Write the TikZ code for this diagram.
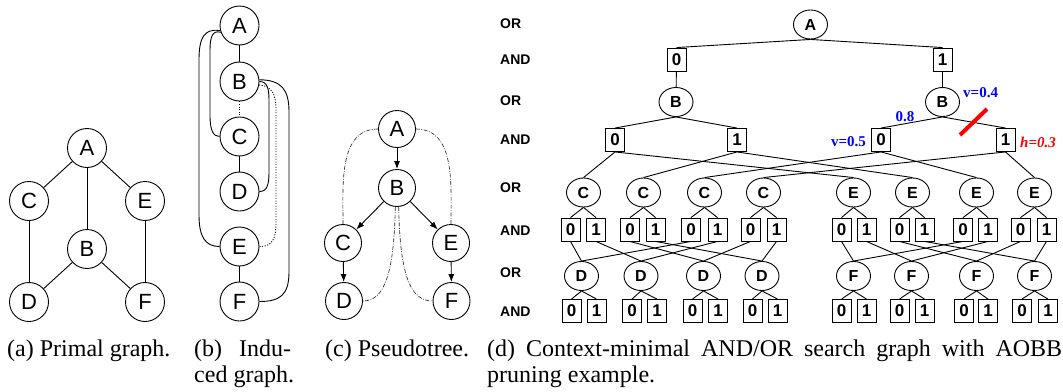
\documentclass[tikz,border=0pt]{standalone}
\usepackage{fontspec}
\setmainfont{Liberation Serif}
\newfontfamily\arial{Liberation Sans}
\usetikzlibrary{shapes.geometric,arrows.meta}
\begin{document}
\begin{tikzpicture}[x=1pt,y=-1pt,
  gnode/.style={circle,draw,line width=0.9pt,minimum size=39pt,inner sep=0pt,font=\arial\fontsize{22}{22}\selectfont},
  ornode/.style={ellipse,draw,line width=0.9pt,minimum width=34pt,minimum height=29pt,inner sep=0pt,font=\arial\bfseries\fontsize{16}{16}\selectfont},
  andnode/.style={rectangle,draw,line width=0.9pt,minimum width=19pt,minimum height=23pt,inner sep=0pt,font=\arial\bfseries\fontsize{17}{17}\selectfont},
  lvl/.style={anchor=west,inner sep=0pt,font=\arial\bfseries\fontsize{14}{14}\selectfont},
  captext/.style={anchor=base west,inner sep=0pt,font=\fontsize{24}{26}\selectfont},
  edge/.style={line width=0.9pt},
  dotedge/.style={line width=0.9pt,dash pattern=on 1pt off 1.6pt},
  arr/.style={line width=0.9pt,-{Latex[length=8pt,width=6pt]}},
  dd/.style={line width=0.65pt,black!85,dash pattern=on 4pt off 1.5pt on 0.8pt off 1.5pt},
  vlab/.style={inner sep=0pt,text=blue,font=\bfseries\fontsize{15}{15}\selectfont},
  hlab/.style={inner sep=0pt,text=red,font=\bfseries\itshape\fontsize{15}{15}\selectfont}
]
\useasboundingbox (0,0) rectangle (1063,391);

% ---------- (a) primal graph ----------
\node[gnode] (aA) at (87,148) {A};
\node[gnode] (aC) at (29,201) {C};
\node[gnode] (aE) at (145,201) {E};
\node[gnode] (aB) at (87,249) {B};
\node[gnode] (aD) at (29,302) {D};
\node[gnode] (aF) at (145,302) {F};
\draw[edge] (aA) -- (aC);
\draw[edge] (aA) -- (aB);
\draw[edge] (aA) -- (aE);
\draw[edge] (aC) -- (aD);
\draw[edge] (aB) -- (aD);
\draw[edge] (aB) -- (aF);
\draw[edge] (aE) -- (aF);

% ---------- (b) induced graph ----------
\node[gnode] (bA) at (239.5,25.5) {A};
\node[gnode] (bB) at (239.5,81.5) {B};
\node[gnode] (bC) at (239.5,136.5) {C};
\node[gnode] (bD) at (239.5,191.5) {D};
\node[gnode] (bE) at (239.5,246.5) {E};
\node[gnode] (bF) at (239.5,301.5) {F};
\draw[edge] (bA) -- (bB);
\draw[dotedge] (bB) -- (bC);
\draw[edge] (bC) -- (bD);
\draw[edge] (bE) -- (bF);
\draw[edge] (bA.200) .. controls (213,30) and (210,36) .. (210,50) -- (210,115) .. controls (210,130) and (213,136.5) .. (bC.west);
\draw[edge] (bA.195) .. controls (204,28) and (199,38) .. (199,60) -- (199,215) .. controls (199,238) and (206,246.5) .. (bE.west);
\draw[edge] (bB.east) .. controls (267,81.5) and (269,88) .. (269,100) -- (269,172) .. controls (269,185) and (267,191.5) .. (bD.east);
\draw[dotedge] (bB.-10) .. controls (272,86) and (276,94) .. (276,110) -- (276,222) .. controls (276,240) and (272,246.5) .. (bE.east);
\draw[edge] (bB.5) .. controls (282,80) and (289,90) .. (289,112) -- (289,272) .. controls (289,295) and (280,301.5) .. (bF.east);

% ---------- (c) pseudotree ----------
\node[gnode,minimum size=37pt] (cA) at (397,129) {A};
\node[gnode,minimum size=37pt] (cB) at (397,188) {B};
\node[gnode,minimum size=37pt] (cC) at (343,243) {C};
\node[gnode,minimum size=37pt] (cD) at (344,301) {D};
\node[gnode,minimum size=37pt] (cE) at (451,243) {E};
\node[gnode,minimum size=37pt] (cF) at (451.5,301) {F};
\draw[arr] (cA) -- (cB);
\draw[arr] (cB) -- (cC);
\draw[arr] (cB) -- (cE);
\draw[arr] (cC) -- (cD);
\draw[arr] (cE) -- (cF);
\draw[dd] (cA.west) to[out=180,in=90] (cC.north);
\draw[dd] (cA.east) to[out=0,in=90] (cE.north);
\draw[dd] (cB.-95) .. controls (394,272) and (385,301) .. (cD.east);
\draw[dd] (cB.-85) .. controls (400,272) and (409,301) .. (cF.west);

% ---------- (d) AND/OR search graph ----------
\node[lvl] (l1) at (500,24) {OR};
\node[lvl] (l2) at (500,60) {AND};
\node[lvl] (l3) at (500,101) {OR};
\node[lvl] (l4) at (500,140) {AND};
\node[lvl] (l5) at (500,188) {OR};
\node[lvl] (l6) at (500,231) {AND};
\node[lvl] (l7) at (500,273) {OR};
\node[lvl] (l8) at (500,312) {AND};

\node[ornode] (A) at (810.5,24.5) {A};
\node[andnode] (a0) at (676.5,59.5) {0};
\node[andnode] (a1) at (942.5,59.5) {1};
\node[ornode] (B0) at (676,102) {B};
\node[ornode] (B1) at (942.5,102) {B};
\node[andnode] (b00) at (615,140) {0};
\node[andnode] (b01) at (737,140) {1};
\node[andnode] (b10) at (881,140) {0};
\node[andnode] (b11) at (1005.5,140) {1};
\draw[edge] (A.south) -- (a0.north);
\draw[edge] (A.south) -- (a1.north);
\draw[edge] (a0) -- (B0);
\draw[edge] (a1) -- (B1);
\draw[edge] (B0.south) -- (b00.north);
\draw[edge] (B0.south) -- (b01.north);
\draw[edge] (B1.south) -- (b10.north);
\draw[edge] (B1.south) -- (b11.north);

% level C / E
\foreach \n/\x/\l/\u/\v in {C1/583.5/C/570.5/596, C2/643.5/C/630/655.5, C3/704.5/C/691/717.5, C4/763.5/C/750.5/776.5,
                            E1/853.5/E/841.5/866.5, E2/912.5/E/899.5/924.5, E3/976.5/E/963/988, E4/1034.5/E/1020.5/1046.5}{
  \node[ornode] (\n) at (\x,192.5) {\l};
  \node[andnode] (\n0) at (\u,229.5) {0};
  \node[andnode] (\n1) at (\v,229.5) {1};
  \draw[edge] (\n.south) -- (\n0.north);
  \draw[edge] (\n.south) -- (\n1.north);
}
% level D / F
\foreach \n/\x/\l/\u/\v in {D1/581.5/D/571.5/596.5, D2/641/D/632/657, D3/703.5/D/692.5/718, D4/762/D/752.5/777.5,
                            F1/853.5/F/841.5/866.5, F2/911.5/F/899.5/924.5, F3/976.5/F/964/988, F4/1034.5/F/1022/1048}{
  \node[ornode] (\n) at (\x,276) {\l};
  \node[andnode] (\n0) at (\u,311) {0};
  \node[andnode] (\n1) at (\v,311) {1};
  \draw[edge] (\n.south) -- (\n0.north);
  \draw[edge] (\n.south) -- (\n1.north);
}
% AND (A,B) -> C and E
\foreach \s/\c/\e in {b00/C1/E1, b01/C2/E2, b10/C3/E3, b11/C4/E4}{
  \draw[edge] (\s.south) -- (\c.north);
  \draw[edge] (\s.south) -- (\e.north);
}
% AND (C) -> D, AND (E) -> F
\foreach \s/\t in {C10/D1, C11/D2, C20/D3, C21/D4, C30/D1, C31/D2, C40/D3, C41/D4,
                   E10/F1, E11/F2, E20/F3, E21/F4, E30/F1, E31/F2, E40/F3, E41/F4}{
  \draw[edge] (\s.south) -- (\t.north);
}

% pruning annotations
\node[vlab,anchor=west] (v04) at (963,93) {v=0.4};
\node[vlab] (v08) at (905,117) {0.8};
\node[vlab,anchor=east] (v05) at (866,141.5) {v=0.5};
\node[hlab,anchor=west] (h03) at (1020,142.5) {h=0.3};
\coordinate (cut1) at (960,135);
\coordinate (cut2) at (987,109);
\draw[red,line width=4pt] (cut1) -- (cut2);

% ---------- captions ----------
\node[captext] (capa) at (7,356.5) {(a) Primal graph.};
\node[captext] (capb1) at (194,356.5) {\makebox[97pt][s]{(b) Indu-}};
\node[captext] (capb2) at (194,382.5) {ced graph.};
\node[captext] (capc) at (325,356.5) {(c) Pseudotree.};
\node[captext] (capd1) at (487,356.5) {\makebox[575pt][s]{(d) Context-minimal AND/OR search graph with AOBB}};
\node[captext] (capd2) at (487,382.5) {pruning example.};
\end{tikzpicture}
\end{document}
